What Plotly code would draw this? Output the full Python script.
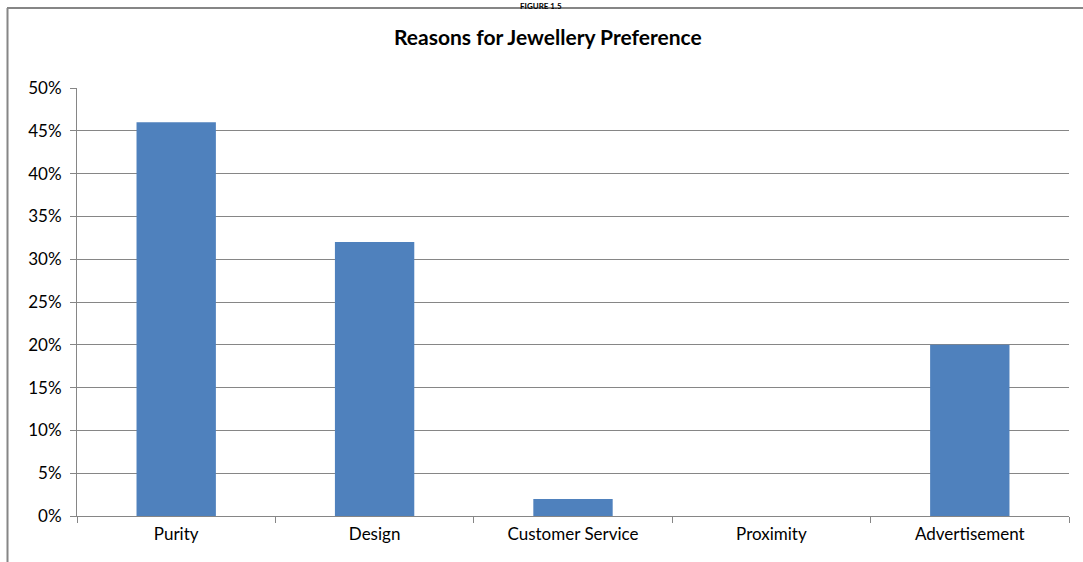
import plotly.graph_objects as go

# Survey results: share of respondents by main reason for jewellery preference
categories = ["Purity", "Design", "Customer Service", "Proximity", "Advertisement"]
shares = [0.46, 0.32, 0.02, 0.0, 0.20]
y_ticks = [0, 0.05, 0.10, 0.15, 0.20, 0.25, 0.30, 0.35, 0.40, 0.45, 0.50]

W, H = 1083, 562
ML, MR, MT, MB = 77, 14, 88, 46
PW, PH = W - ML - MR, H - MT - MB

FONT = "Lato, 'Open Sans', sans-serif"
GRID = "#868686"

fig = go.Figure(
    go.Bar(
        x=categories,
        y=shares,
        marker=dict(color="#4F81BD", line=dict(width=0)),
        width=0.4,
        hoverinfo="x+y",
    )
)

def px_x(px):
    return (px - ML) / PW

def px_y(py):
    return (H - MB - py) / PH

fig.update_layout(
    width=W,
    height=H,
    margin=dict(l=ML, r=MR, t=MT, b=MB),
    paper_bgcolor="white",
    plot_bgcolor="white",
    showlegend=False,
    font=dict(family=FONT, color="#000000", size=17),
    xaxis=dict(
        type="category",
        showgrid=False,
        showline=True,
        linecolor=GRID,
        linewidth=1,
        ticks="outside",
        tickson="boundaries",
        ticklen=6,
        tickcolor=GRID,
        tickfont=dict(size=17, family=FONT),
        ticklabelstandoff=3,
    ),
    yaxis=dict(
        range=[0, 0.5],
        tickvals=y_ticks,
        tickformat=".0%",
        showgrid=True,
        gridcolor=GRID,
        gridwidth=1,
        showline=True,
        linecolor=GRID,
        linewidth=1,
        ticks="outside",
        ticklen=6,
        tickcolor=GRID,
        tickfont=dict(size=17, family=FONT),
        ticklabelstandoff=5,
        zeroline=False,
        fixedrange=True,
    ),
    annotations=[
        dict(
            text="<b>Reasons for Jewellery Preference</b>",
            xref="paper", yref="paper",
            x=px_x(548), y=px_y(36),
            xanchor="center", yanchor="middle",
            showarrow=False,
            font=dict(size=21, family=FONT, color="#000000"),
        ),
        dict(
            text="<b>FIGURE 1.5</b>",
            xref="paper", yref="paper",
            x=px_x(541), y=px_y(0),
            xanchor="center", yanchor="top",
            showarrow=False,
            font=dict(size=8, family=FONT, color="#000000"),
            borderpad=0,
        ),
    ],
    shapes=[
        # outer chart frame (top and left edges)
        dict(type="line", xref="paper", yref="paper",
             x0=px_x(7), x1=px_x(W + 5), y0=px_y(8), y1=px_y(8),
             line=dict(color=GRID, width=2)),
        dict(type="line", xref="paper", yref="paper",
             x0=px_x(7.5), x1=px_x(7.5), y0=px_y(8), y1=px_y(H + 5),
             line=dict(color=GRID, width=2)),
    ],
)

fig.write_html("out.html", config={"displayModeBar": False})
